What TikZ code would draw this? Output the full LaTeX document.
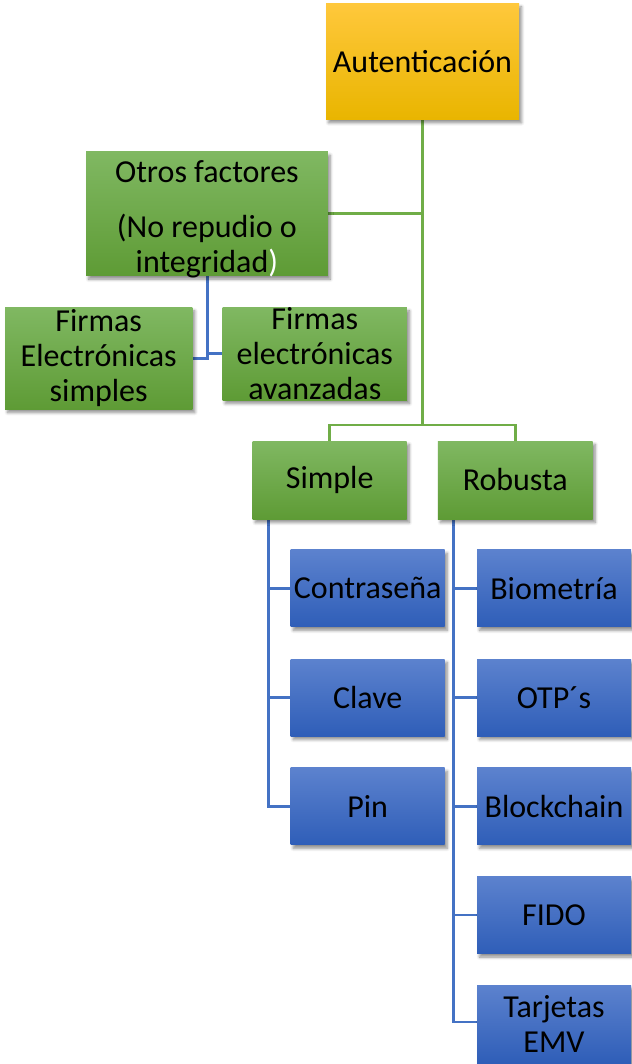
\documentclass[tikz,border=0pt]{standalone}
\usepackage{fontspec}
\setmainfont{Carlito}
\usetikzlibrary{shadows.blur,backgrounds}
\definecolor{gtop}{HTML}{80B862}
\definecolor{gbot}{HTML}{5E9B35}
\definecolor{otop}{HTML}{FFC83C}
\definecolor{obot}{HTML}{E9B500}
\definecolor{btop}{HTML}{5C82CE}
\definecolor{bbot}{HTML}{2F5EB8}
\definecolor{gline}{HTML}{70AD47}
\definecolor{bline}{HTML}{4472C4}
\tikzset{
  txt/.style={inner sep=0pt, outer sep=0pt, align=center, text=black,
    font=\fontsize{32}{35}\selectfont},
  box/.style={txt, rectangle,
    blur shadow={shadow xshift=2.5pt, shadow yshift=-3.5pt, shadow blur steps=6, shadow blur radius=3pt, shadow opacity=45}},
  gbox/.style={box, top color=gtop, bottom color=gbot},
  obox/.style={box, top color=otop, bottom color=obot},
  bbox/.style={box, top color=btop, bottom color=bbot, minimum width=154pt, minimum height=77pt},
  gconn/.style={draw=gline, line width=2.6pt},
  bconn/.style={draw=bline, line width=2.6pt},
}
\begin{document}
\begin{tikzpicture}[x=1pt,y=1pt]
\useasboundingbox (0,0) rectangle (631,-1064);
\node[obox, minimum width=193pt, minimum height=116pt] (auth) at (422.5,-61.3) {Autenticación};
\node[gbox, minimum width=241.7pt, minimum height=124pt] (otros) at (206.9,-213.7) {};
\node[txt] (otrostext) at (206.9,-219.5) {Otros factores\\[20pt](No repudio o\\integridad\textcolor{white}{)}};
\node[gbox, minimum width=187.3pt, minimum height=101.7pt] (fsimples) at (98.7,-358.2) {Firmas\\Electrónicas\\simples};
\node[gbox, minimum width=184.3pt, minimum height=92.7pt] (favanz) at (314.8,-353.7) {Firmas\\electrónicas\\avanzadas};
\node[gbox, minimum width=154pt, minimum height=78pt] (simple) at (329.7,-480) {Simple};
\node[gbox, minimum width=154.7pt, minimum height=78pt] (robusta) at (515.3,-480) {Robusta};
\node[bbox] (contrasena) at (367.7,-588.3) {Contraseña};
\node[bbox] (clave) at (367.7,-697.5) {Clave};
\node[bbox] (pin) at (367.7,-806.3) {Pin};
\node[bbox] (biometria) at (554,-588.3) {Biometría};
\node[bbox] (otps) at (554,-697.5) {OTP´s};
\node[bbox] (blockchain) at (554,-806.3) {Blockchain};
\node[bbox] (fido) at (554,-915) {FIDO};
\node[bbox, minimum height=78pt] (tarjetas) at (554,-1024) {Tarjetas\\EMV};
\coordinate (bus) at (422.5,-425);
\coordinate (stem) at (207.7,-275.7);
\coordinate (sbar) at (268.3,-519);
\coordinate (rbar) at (453.3,-519);
\begin{scope}[on background layer]
\draw[gconn] (auth.south) -- (bus);
\draw[gconn] (simple.north) |- (bus) -| (robusta.north);
\draw[gconn] (otros.east) -- (otros.east -| auth.south);
\draw[bconn] (stem) |- (fsimples.east);
\draw[bconn] (stem) |- (favanz.west);
\draw[bconn] (sbar) |- (contrasena.west);
\draw[bconn] (sbar) |- (clave.west);
\draw[bconn] (sbar) |- (pin.west);
\draw[bconn] (rbar) |- (biometria.west);
\draw[bconn] (rbar) |- (otps.west);
\draw[bconn] (rbar) |- (blockchain.west);
\draw[bconn] (rbar) |- (fido.west);
\draw[bconn] (rbar) |- ([yshift=2pt]tarjetas.west);
\end{scope}
\end{tikzpicture}
\end{document}
